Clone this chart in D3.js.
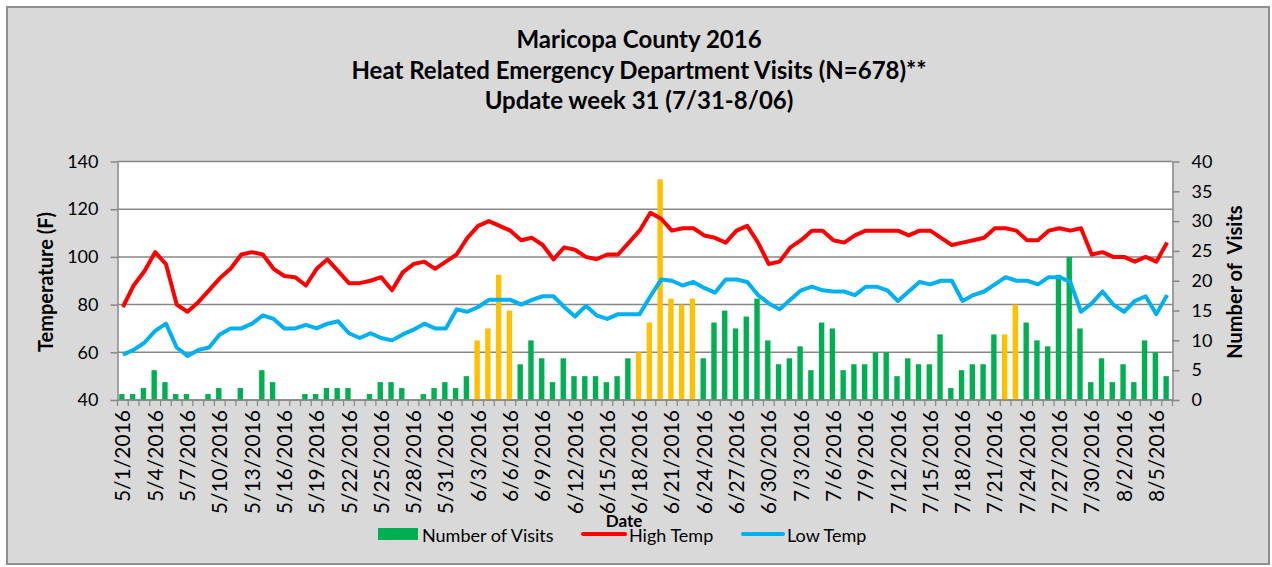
<!doctype html>
<html>
<head>
<meta charset="UTF-8">
<title>Maricopa County 2016</title>
<script src="https://d3js.org/d3.v7.min.js"></script>
<style>
  body { margin: 0; background: #fff; }
  text { font-family: Lato, "Open Sans", sans-serif; fill: #000; }
</style>
</head>
<body>
<svg width="1272" height="567"></svg>
<script>
// categories: one per day, 5/1/2016 .. 8/6/2016
var days = d3.timeDay.range(new Date(2016, 4, 1), new Date(2016, 7, 7));
var dates = days.map(function (d) { return (d.getMonth() + 1) + "/" + d.getDate() + "/2016"; });

var highTemp = [79, 88, 94, 102, 97, 80, 77, 81, 86, 91, 95, 101, 102, 101, 95, 92, 91.5, 88, 95, 99, 94, 89, 89, 90, 91.5,
  86, 93.5, 97, 98, 95, 98, 101, 108, 113, 115, 113, 111, 107, 108, 105, 99, 104, 103, 100, 99, 101, 101, 106, 111, 118.5, 116,
  111, 112, 112, 109, 108, 106, 111, 113, 106, 97, 98, 104, 107, 111, 111, 107, 106, 109, 111, 111, 111, 111, 109, 111, 111,
  108, 105, 106, 107, 108, 112, 112, 111, 107, 107, 111, 112, 111, 112, 101, 102, 100, 100, 98, 100, 98, 106];

var lowTemp = [59, 61, 64, 69, 72, 62, 58.5, 61, 62, 67.5, 70, 70, 72, 75.5, 74, 70, 70, 71.5, 70, 72, 73, 68, 66, 68, 66,
  65, 67.5, 69.5, 72, 70, 70, 78, 77, 79, 82, 82, 82, 80, 82, 83.5, 83.5, 79, 75, 79.5, 75.5, 74, 76, 76, 76, 83.5, 90.5,
  90, 88, 89.5, 87, 85, 90.5, 90.5, 89.5, 84, 80.5, 78, 82, 86, 87.5, 86, 85.5, 85.5, 84, 87.5, 87.5, 86, 81.5, 85.5, 89.5, 88.5,
  90, 90, 81.5, 84, 85.5, 88.5, 91.5, 90, 90, 88.5, 91.5, 91.5, 89.5, 77, 80.5, 85.5, 80, 77, 81.5, 83.5, 76, 84];

var visits = [1, 1, 2, 5, 3, 1, 1, 0, 1, 2, 0, 2, 0, 5, 3, 0, 0, 1, 1, 2, 2, 2, 0, 1, 3,
  3, 2, 0, 1, 2, 3, 2, 4, 10, 12, 21, 15, 6, 10, 7, 3, 7, 4, 4, 4, 3, 4, 7, 8, 13, 37,
  17, 16, 17, 7, 13, 15, 12, 14, 17, 10, 6, 7, 9, 5, 13, 12, 5, 6, 6, 8, 8, 4, 7, 6, 6,
  11, 2, 5, 6, 6, 11, 11, 16, 13, 10, 9, 21, 24, 12, 3, 7, 3, 6, 3, 10, 8, 4];

// days drawn in gold
var warningDays = ["6/3/2016", "6/4/2016", "6/5/2016", "6/6/2016",
  "6/18/2016", "6/19/2016", "6/20/2016", "6/21/2016", "6/22/2016", "6/23/2016",
  "7/22/2016", "7/23/2016"];

var tempTicks = [40, 60, 80, 100, 120, 140];
var visitTicks = [0, 5, 10, 15, 20, 25, 30, 35, 40];

var svg = d3.select("svg");
var pL = 117.5, pR = 1172.5, pT = 161.5, pB = 400;
var grid = "#878787";

svg.append("rect").attr("x", 7).attr("y", 7).attr("width", 1262).attr("height", 557)
  .attr("fill", "#d9d9d9").attr("stroke", "#8e8e8e").attr("stroke-width", 2);
svg.append("rect").attr("x", pL).attr("y", pT).attr("width", pR - pL).attr("height", pB - pT)
  .attr("fill", "#fff");

var x = d3.scaleBand().domain(dates).range([pL, pR]).paddingInner(0.5).paddingOuter(0.25);
var step = x.step();
var yT = d3.scaleLinear().domain([40, 140]).range([pB, pT]);
var yV = d3.scaleLinear().domain([0, 40]).range([pB, pT]);

// gridlines
svg.selectAll(".grid").data(tempTicks).enter().append("line")
  .attr("x1", pL).attr("x2", pR)
  .attr("y1", function (d) { return yT(d); }).attr("y2", function (d) { return yT(d); })
  .attr("stroke", grid).attr("stroke-width", 1.5);

// bars
svg.selectAll(".bar").data(visits).enter().append("rect")
  .attr("x", function (d, i) { return x(dates[i]) - 1; })
  .attr("y", function (d) { return yV(d); })
  .attr("width", x.bandwidth())
  .attr("height", function (d) { return pB - yV(d); })
  .attr("fill", function (d, i) { return warningDays.indexOf(dates[i]) >= 0 ? "#ffc000" : "#00b050"; });

function cx(i) { return x(dates[i]) + x.bandwidth() / 2; }

var tempLine = d3.line().x(function (d, i) { return cx(i); }).y(function (d) { return yT(d); });
svg.append("path").datum(lowTemp).attr("d", tempLine).attr("fill", "none")
  .attr("stroke", "#00b0f0").attr("stroke-width", 4).attr("stroke-linejoin", "round");
svg.append("path").datum(highTemp).attr("d", tempLine).attr("fill", "none")
  .attr("stroke", "#ff0000").attr("stroke-width", 4).attr("stroke-linejoin", "round");

// axes
function styleAxis(g) {
  g.select(".domain").attr("stroke", grid).attr("stroke-width", 1.5);
  g.selectAll(".tick line").attr("stroke", grid).attr("stroke-width", 1.5);
  g.selectAll(".tick text").attr("font-size", 18).attr("fill", "#000")
    .style("font-family", "Lato, 'Open Sans', sans-serif");
}

var gL = svg.append("g").attr("transform", "translate(" + pL + ",0)")
  .call(d3.axisLeft(yT).tickValues(tempTicks).tickSize(7).tickSizeOuter(0).tickPadding(12));
styleAxis(gL);

var gR = svg.append("g").attr("transform", "translate(" + pR + ",0)")
  .call(d3.axisRight(yV).tickValues(visitTicks).tickSize(7).tickSizeOuter(0).tickPadding(12));
styleAxis(gR);

// bottom axis with ticks between days
svg.append("line").attr("x1", pL).attr("x2", pR).attr("y1", pB).attr("y2", pB)
  .attr("stroke", grid).attr("stroke-width", 1.5);
svg.selectAll(".xtick").data(d3.range(dates.length + 1)).enter().append("line")
  .attr("x1", function (d) { return pL + d * step; }).attr("x2", function (d) { return pL + d * step; })
  .attr("y1", pB).attr("y2", pB + 6)
  .attr("stroke", grid).attr("stroke-width", 1.2);
svg.selectAll(".xlab").data(dates.filter(function (d, i) { return i % 3 === 0; })).enter().append("text")
  .attr("transform", function (d) { return "translate(" + (x(d) + x.bandwidth() / 2) + "," + (pB + 10) + ") rotate(-90)"; })
  .attr("text-anchor", "end").attr("dy", "0.36em").attr("font-size", 21)
  .text(function (d) { return d; });

// titles
var titles = ["Maricopa County 2016", "Heat Related Emergency Department Visits (N=678)**", "Update week 31 (7/31-8/06)"];
svg.selectAll(".title").data(titles).enter().append("text")
  .attr("x", 639).attr("y", function (d, i) { return 48 + i * 30.5; })
  .attr("text-anchor", "middle").attr("font-size", 24).attr("font-weight", "bold")
  .text(function (d) { return d; });

svg.append("text").attr("transform", "translate(53,282) rotate(-90)")
  .attr("text-anchor", "middle").attr("font-size", 20).attr("font-weight", "bold").text("Temperature (F)");
svg.append("text").attr("transform", "translate(1242,282) rotate(-90)")
  .attr("text-anchor", "middle").attr("font-size", 20).attr("font-weight", "bold")
  .attr("xml:space", "preserve").style("white-space", "pre").text("Number of  Visits");
svg.append("text").attr("x", 624).attr("y", 527).attr("text-anchor", "middle")
  .attr("font-size", 17).attr("font-weight", "bold").text("Date");

// legend
var legend = [
  { name: "Number of Visits", color: "#00b050", type: "rect", x: 378, w: 40 },
  { name: "High Temp", color: "#ff0000", type: "line", x: 583, w: 42 },
  { name: "Low Temp", color: "#00b0f0", type: "line", x: 743, w: 40 }
];
legend.forEach(function (l) {
  if (l.type === "rect") {
    svg.append("rect").attr("x", l.x).attr("y", 528).attr("width", l.w).attr("height", 12).attr("fill", l.color);
  } else {
    svg.append("line").attr("x1", l.x).attr("x2", l.x + l.w).attr("y1", 534).attr("y2", 534)
      .attr("stroke", l.color).attr("stroke-width", 4).attr("stroke-linecap", "round");
  }
  svg.append("text").attr("x", l.x + l.w + 4).attr("y", 542).attr("font-size", 18).text(l.name);
});
</script>
</body>
</html>
